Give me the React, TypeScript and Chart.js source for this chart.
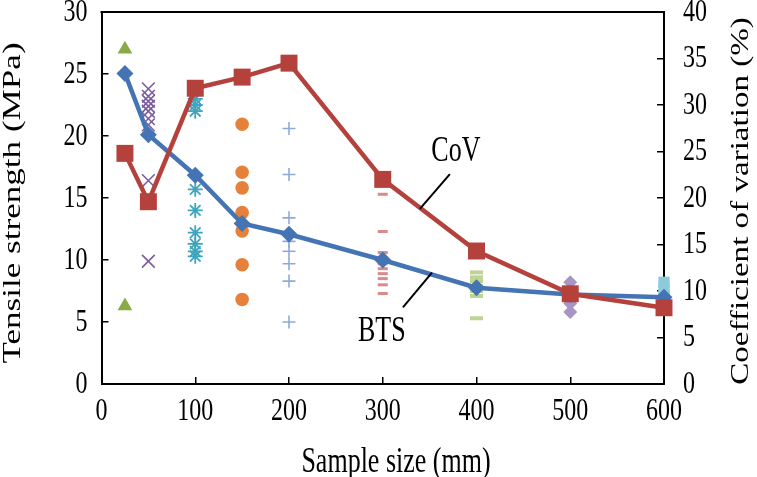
import React, { useEffect, useRef } from "react";
import { Chart, registerables } from "chart.js";

Chart.register(...registerables);

// ---- data ----
const sampleSizes = [25, 50, 100, 150, 200, 300, 400, 500, 600];
const btsMean = [25.05, 20.1, 16.84, 12.94, 12.08, 10.0, 7.76, 7.22, 7.0];
const covPercent = [24.8, 19.6, 31.8, 33.0, 34.5, 22.0, 14.3, 9.7, 8.2];

const tests25 = [27.0, 6.3];
const tests50 = [23.8, 23.2, 22.8, 22.4, 22.0, 21.4, 20.9, 16.4, 9.9];
const tests100 = [23.0, 22.5, 22.0, 15.7, 14.0, 12.2, 11.3, 10.7, 10.3];
const tests150 = [20.95, 17.08, 15.82, 13.82, 12.35, 9.62, 6.82];
const tests200 = [20.6, 16.9, 13.4, 12.1, 11.5, 10.7, 9.7, 8.3, 5.0];
const tests300 = [15.3, 12.3, 10.6, 10.2, 9.7, 9.3, 8.9, 8.5, 8.0, 7.3];
const tests400 = [9.0, 8.6, 8.3, 7.9, 7.5, 7.1, 5.3];
const tests500 = [8.2, 7.3, 6.5, 5.8];
const tests600 = [8.2, 7.7, 7.2];

const xTicks = [0, 100, 200, 300, 400, 500, 600];
const yTicks = [0, 5, 10, 15, 20, 25, 30];
const y1Ticks = [0, 5, 10, 15, 20, 25, 30, 35, 40];

const xTitle = "Sample size (mm)";
const yTitle = "Tensile strength (MPa)";
const y1Title = "Coefficient of variation (%)";

// annotation labels (data coordinates, left axis)
const annoLabels = [
  { text: "CoV", x: 378, y: 18.7, x1: 339.6, y1: 14.12, x2: 371.6, y2: 16.92 },
  { text: "BTS", x: 299, y: 4.25, x1: 321.5, y1: 6.18, x2: 352.5, y2: 8.98 },
];

const SERIF = '"Liberation Serif", "Times New Roman", serif';
const STRETCH = 1.35;

function drawStretched(
  ctx: CanvasRenderingContext2D,
  text: string,
  x: number,
  y: number,
  align: CanvasTextAlign,
  size: number,
  rot = false
) {
  ctx.save();
  ctx.translate(x, y);
  ctx.scale(1, STRETCH);
  if (rot) ctx.rotate(-Math.PI / 2);
  ctx.font = `${size}px ${SERIF}`;
  ctx.textAlign = align;
  ctx.textBaseline = "middle";
  ctx.fillStyle = "#000";
  ctx.fillText(text, 0, 0);
  ctx.restore();
}

const textPlugin = {
  id: "stretchedTexts",
  afterDraw(chart: any) {
    const { ctx, chartArea, scales } = chart;
    const sx = scales.x;
    const sy = scales.y;
    const sy1 = scales.y1;
    ctx.save();
    // top frame
    ctx.strokeStyle = "#000";
    ctx.lineWidth = 2;
    ctx.beginPath();
    ctx.moveTo(chartArea.left - 1, chartArea.top);
    ctx.lineTo(chartArea.right + 1, chartArea.top);
    ctx.stroke();

    // tick labels
    sy.ticks.forEach((t: any) => {
      drawStretched(ctx, String(t.value), chartArea.left - 14, sy.getPixelForValue(t.value), "right", 24);
    });
    sy1.ticks.forEach((t: any) => {
      drawStretched(ctx, String(t.value), chartArea.right + 19, sy1.getPixelForValue(t.value), "left", 24);
    });
    sx.ticks.forEach((t: any) => {
      drawStretched(ctx, String(t.value), sx.getPixelForValue(t.value), chartArea.bottom + 27, "center", 24);
    });

    // axis titles
    drawStretched(ctx, xTitle, 396, chartArea.bottom + 79, "center", 26);
    drawStretched(ctx, yTitle, 13, 203, "center", 26, true);
    drawStretched(ctx, y1Title, 742, 201, "center", 24.5, true);

    // annotations
    ctx.strokeStyle = "#000";
    ctx.lineWidth = 2;
    annoLabels.forEach((a) => {
      ctx.beginPath();
      ctx.moveTo(sx.getPixelForValue(a.x1), sy.getPixelForValue(a.y1));
      ctx.lineTo(sx.getPixelForValue(a.x2), sy.getPixelForValue(a.y2));
      ctx.stroke();
      drawStretched(ctx, a.text, sx.getPixelForValue(a.x), sy.getPixelForValue(a.y), "center", 26);
    });
    ctx.restore();
  },
};

function pts(x: number, ys: number[]) {
  return ys.map((y) => ({ x, y }));
}

export default function App() {
  const ref = useRef<HTMLCanvasElement>(null);

  useEffect(() => {
    if (!ref.current) return;
    const scatterSet = (
      ys: number[],
      x: number,
      style: string,
      color: string,
      radius: number,
      bw: number,
      fill = true
    ) => ({
      type: "scatter" as const,
      data: pts(x, ys),
      showLine: false,
      clip: false,
      pointStyle: style,
      pointRadius: radius,
      pointHoverRadius: radius,
      pointBackgroundColor: fill ? color : "transparent",
      pointBorderColor: color,
      pointBorderWidth: bw,
      yAxisID: "y",
    });

    const chart = new Chart(ref.current, {
      type: "scatter",
      data: {
        datasets: [
          {
            type: "scatter",
            data: sampleSizes.map((x, i) => ({ x, y: covPercent[i] })),
            showLine: true,
            clip: false,
            borderColor: "#b5413d",
            borderWidth: 4.5,
            pointStyle: "rect",
            pointRadius: 12,
            pointHoverRadius: 12,
            pointBackgroundColor: "#b5413d",
            pointBorderColor: "#b5413d",
            pointBorderWidth: 0,
            yAxisID: "y1",
          } as any,
          {
            type: "scatter",
            data: sampleSizes.map((x, i) => ({ x, y: btsMean[i] })),
            showLine: true,
            clip: false,
            borderColor: "#4574b4",
            borderWidth: 4.5,
            pointStyle: "rectRot",
            pointRadius: 8.5,
            pointHoverRadius: 8.5,
            pointBackgroundColor: "#4574b4",
            pointBorderColor: "#4574b4",
            pointBorderWidth: 0,
            yAxisID: "y",
          } as any,
          scatterSet(tests25, 25, "triangle", "#8aaa48", 8.5, 0),
          scatterSet(tests50, 50, "crossRot", "#7d5c9e", 9, 1.6, false),
          scatterSet(tests100, 100, "star", "#3ea5bd", 7.5, 1.8, false),
          scatterSet(tests150, 150, "circle", "#e5813a", 6.8, 0),
          scatterSet(tests200, 200, "cross", "#8eaadb", 6.5, 1.6, false),
          scatterSet(tests300, 300, "line", "#d98b8a", 5, 3, false),
          scatterSet(tests400, 400, "line", "#bed495", 6.5, 4, false),
          scatterSet(tests500, 500, "rectRot", "#a895c4", 7, 0),
          scatterSet(tests600, 600, "rect", "#8ccbdc", 8, 0),
        ] as any,
      },
      options: {
        animation: false,
        responsive: true,
        maintainAspectRatio: false,
        layout: { padding: { top: 10, left: 0, right: 0, bottom: 0 } },
        plugins: {
          legend: { display: false },
          tooltip: { enabled: false },
        },
        scales: {
          x: {
            type: "linear",
            min: 0,
            max: 600,
            afterBuildTicks: (s: any) => {
              s.ticks = xTicks.map((v) => ({ value: v }));
            },
            afterFit: (s: any) => {
              s.height = 93;
            },
            ticks: { display: false },
            grid: {
              display: true,
              drawOnChartArea: false,
              drawTicks: true,
              tickLength: -7,
              color: "#000",
              lineWidth: 1.5,
            },
            border: { display: true, color: "#000", width: 2 },
          },
          y: {
            type: "linear",
            position: "left",
            min: 0,
            max: 30,
            afterBuildTicks: (s: any) => {
              s.ticks = yTicks.map((v) => ({ value: v }));
            },
            afterFit: (s: any) => {
              s.width = 101.5;
            },
            ticks: { display: false },
            grid: {
              display: true,
              drawOnChartArea: false,
              drawTicks: true,
              tickLength: -7,
              color: "#000",
              lineWidth: 1.5,
            },
            border: { display: true, color: "#000", width: 2 },
          },
          y1: {
            type: "linear",
            position: "right",
            min: 0,
            max: 40,
            afterBuildTicks: (s: any) => {
              s.ticks = y1Ticks.map((v) => ({ value: v }));
            },
            afterFit: (s: any) => {
              s.width = 93;
            },
            ticks: { display: false },
            grid: {
              display: true,
              drawOnChartArea: false,
              drawTicks: true,
              tickLength: -7,
              color: "#000",
              lineWidth: 1.5,
            },
            border: { display: true, color: "#000", width: 2 },
          },
        },
      } as any,
      plugins: [textPlugin],
    });
    return () => chart.destroy();
  }, []);

  return (
    <div
      style={{
        position: "fixed",
        left: 0,
        top: 0,
        width: 757,
        height: 477,
        background: "#fff",
      }}
    >
      <canvas ref={ref} />
    </div>
  );
}
